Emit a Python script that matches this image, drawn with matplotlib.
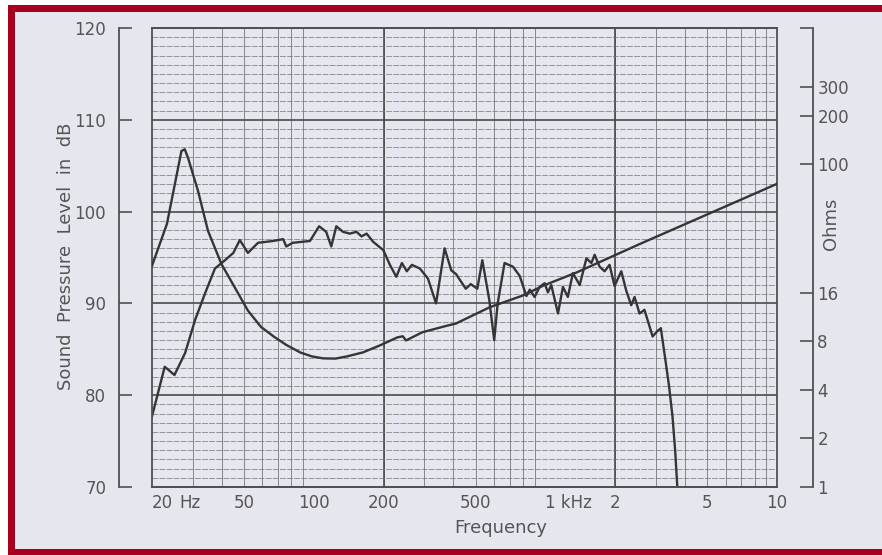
import matplotlib.pyplot as plt
from matplotlib.patches import Rectangle
from matplotlib.ticker import NullLocator

# sound pressure response (Hz, dB)
spl_freq = [20, 22.7, 25.0, 27.8, 30.7, 33.9, 37.4, 41.3, 44.9, 47.9, 51.9, 57.4,
            66.6, 73.7, 76, 81, 96.2, 105.3, 113, 118.9, 125, 133.5, 143, 152.8,
            160.6, 169, 180.5, 199.5, 213, 227, 240, 252, 265, 287, 311, 337, 367,
            392, 411, 453, 476, 508, 534, 572, 601, 622, 666, 724, 774, 828, 856,
            898, 944, 992, 1025, 1060, 1133, 1190, 1250, 1314, 1406, 1503, 1579,
            1631, 1714, 1801, 1892, 1988, 2126, 2233, 2347, 2426, 2549, 2677, 2903,
            3049, 3151, 3204, 3311, 3422, 3537, 3632, 3718]
spl_db = [77.7, 83.1, 82.2, 84.6, 88.2, 91.1, 93.8, 94.7, 95.5, 96.9, 95.5, 96.6,
          96.8, 97.0, 96.2, 96.6, 96.8, 98.4, 97.8, 96.2, 98.4, 97.8, 97.6, 97.8,
          97.3, 97.6, 96.7, 95.8, 94.2, 92.9, 94.4, 93.5, 94.2, 93.8, 92.7, 90.0, 96.0,
          93.6, 93.2, 91.6, 92.1, 91.6, 94.7, 90.4, 86.0, 90.0, 94.4, 94.0, 93.0, 90.8, 91.5,
          90.7, 91.8, 92.2, 91.2, 92.0, 88.9, 91.8, 90.7, 93.3, 92.0, 94.9, 94.4,
          95.3, 94.0, 93.5, 94.2, 91.9, 93.5, 91.4, 89.8, 90.7, 88.9, 89.3, 86.4,
          87.0, 87.3, 86.0, 83.5, 80.9, 77.7, 74.0, 69.7]

# impedance curve (Hz, Ohms)
imp_freq = [20, 23.2, 26.8, 27.7, 28.6, 31.6, 34.9, 39.9, 45.5, 51.9, 59.2, 67.6,
            76, 87.2, 98, 109.7, 124, 139, 163, 193, 229, 242, 250, 294, 376, 410,
            574, 801, 978, 1366, 1902, 2558, 10000]
imp_ohm = [23.5, 42.7, 121, 124, 110, 68.5, 38.7, 24.1, 17.3, 12.4, 9.8, 8.5,
           7.6, 6.83, 6.45, 6.27, 6.25, 6.45, 6.83, 7.55, 8.45, 8.6, 8.1, 9.1, 10.0, 10.3,
           13.0, 15.4, 17.7, 21.4, 26.5, 32.1, 75.7]

freq_ticks = [20, 50, 100, 200, 500, 1000, 2000, 5000, 10000]
freq_labels = ['20', '50', '100', '200', '500', '1 kHz', '2', '5', '10']
db_ticks = [70, 80, 90, 100, 110, 120]
ohm_ticks = [1, 2, 4, 8, 16, 100, 200, 300, 700]
ohm_labels = ['1', '2', '4', '8', '16', '100', '200', '300', '']

bg = '#e6e6ee'
red = '#a8001f'
ink = '#353535'
txt = '#555555'
grid_c = '#74747a'

W, H = 882, 555
plt.rcParams['font.family'] = 'DejaVu Sans'

fig = plt.figure(figsize=(W / 100, H / 100), dpi=100)
fig.patch.set_facecolor('white')
fig.add_artist(Rectangle((8 / W, 0), 1, 550 / H, transform=fig.transFigure,
                         facecolor=red, edgecolor='none', zorder=-10))
fig.add_artist(Rectangle((15 / W, 6 / H), 1, 537 / H, transform=fig.transFigure,
                         facecolor=bg, edgecolor='none', zorder=-9))

ax = fig.add_axes([152 / W, 1 - 487 / H, 625 / W, 459 / H])
ax.set_facecolor(bg)
ax.set_xscale('log')
ax.set_xlim(20, 10000)
ax.set_ylim(70, 120)

# chart paper grid
for dec in [10, 100, 1000]:
    for k in range(2, 10):
        f = k * dec
        if 20 < f < 10000:
            ax.axvline(f, color=grid_c, lw=0.65, alpha=0.9, zorder=1)
for f in [200, 2000]:
    ax.axvline(f, color='#4a4a4a', lw=1.2, zorder=1)
for d in range(71, 120):
    if d % 10:
        ax.axhline(d, color=grid_c, lw=0.6, alpha=0.85, dashes=(7, 1.5), zorder=1)
for d in [80, 90, 100, 110]:
    ax.axhline(d, color='#4a4a4a', lw=1.2, zorder=1)

ax.plot(spl_freq, spl_db, color=ink, lw=1.7, zorder=3)

ax.spines['left'].set_position(('outward', 24))
ax.spines['left'].set_bounds(70, 120)
for s in ax.spines.values():
    s.set_color('#505050')
    s.set_linewidth(1.3)
ax.set_yticks(db_ticks)
ax.tick_params(axis='y', direction='in', length=9, width=1.2, color='#505050',
               labelsize=12, labelcolor=txt, pad=9)
ax.set_xticks(freq_ticks)
ax.set_xticklabels(freq_labels)
ax.xaxis.set_minor_locator(NullLocator())
ax.tick_params(axis='x', length=0, labelsize=12, labelcolor=txt, pad=5)
lbls = ax.get_xticklabels()
lbls[0].set_horizontalalignment('left')
lbls[5].set_horizontalalignment('left')
ax.annotate('Hz', xy=(29.3, 0), xycoords=('data', 'axes fraction'),
            xytext=(0, -5), textcoords='offset points', ha='center', va='top',
            fontsize=12, color=txt)

# impedance on the right hand log scale
ax2 = ax.twinx()
ax2.set_yscale('log')
ax2.set_ylim(1, 700)
ax2.plot(imp_freq, imp_ohm, color=ink, lw=1.7, zorder=3)
for s in ['top', 'bottom', 'left']:
    ax2.spines[s].set_color('#505050')
    ax2.spines[s].set_linewidth(1.3)
ax2.spines['right'].set_position(('outward', 26))
ax2.spines['right'].set_color('#505050')
ax2.spines['right'].set_linewidth(1.3)
ax2.set_yticks(ohm_ticks)
ax2.set_yticklabels(ohm_labels)
ax2.yaxis.set_minor_locator(NullLocator())
ax2.tick_params(axis='y', direction='in', length=9.5, width=1.2, color='#505050',
                labelsize=12, labelcolor=txt, pad=3)

fig.text(501 / W, 1 - 528 / H, 'Frequency', ha='center', va='center',
         fontsize=13, color=txt)
fig.text(66 / W, 1 - 256 / H, 'Sound  Pressure  Level  in  dB', rotation=90,
         ha='center', va='center', fontsize=13, color=txt)
fig.text(831 / W, 1 - 224 / H, 'Ohms', rotation=90, ha='center', va='center',
         fontsize=13, color=txt)

fig.savefig('out.png', dpi=100, facecolor=fig.get_facecolor())
